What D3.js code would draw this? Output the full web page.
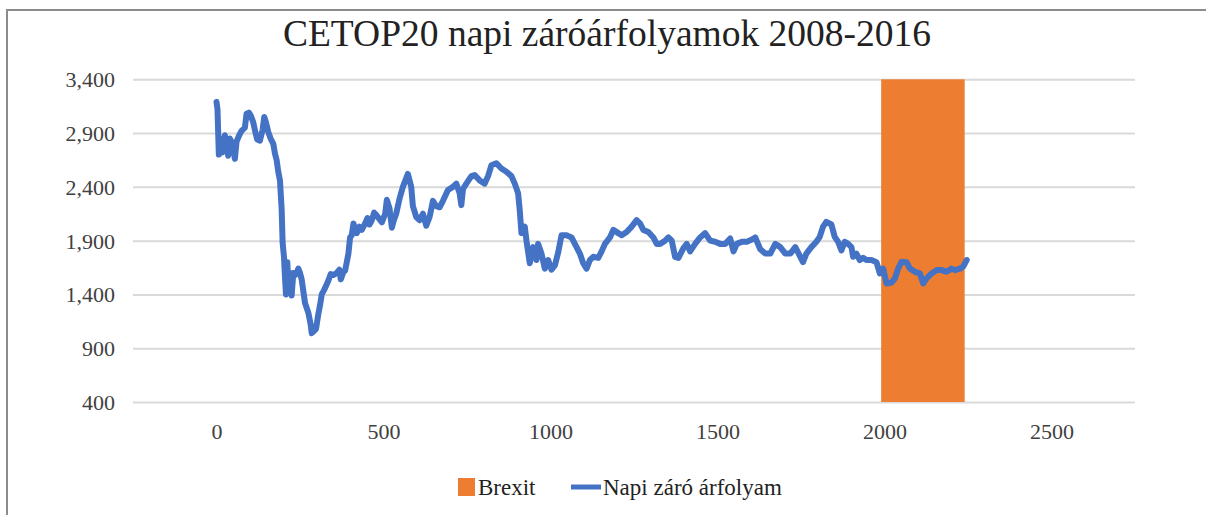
<!DOCTYPE html>
<html>
<head>
<meta charset="utf-8">
<script src="https://cdn.jsdelivr.net/npm/d3@7"></script>
<style>
body { margin: 0; background: #fff; }
</style>
</head>
<body>
<svg width="1206" height="515"></svg>
<script>
var title = "CETOP20 napi záróárfolyamok 2008-2016";
var seriesNames = ["Brexit", "Napi záró árfolyam"];
var yTicks = [400, 900, 1400, 1900, 2400, 2900, 3400];
var xTicks = [0, 500, 1000, 1500, 2000, 2500];
var brexitRange = [1990, 2240];

var days = [0,3,7,12,17,25,30,35,40,48,55,60,68,75,85,90,97,103,110,117,122,130,138,143,148,155,162,170,175,180,185,190,195,198,202,205,208,212,216,220,225,230,235,240,245,250,255,260,265,275,282,285,292,298,305,310,315,322,328,335,342,350,360,368,372,380,385,395,400,405,410,415,420,428,435,445,452,458,465,472,478,488,495,505,510,518,525,530,538,548,
  558,573,583,588,598,608,618,628,638,648,658,668,678,693,708,718,728,733,738,748,763,773,788,803,813,823,838,853,868,883,893,903,908,913,923,928,938,948,958,963,973,983,993,1003,1013,1023,1033,1048,1063,1073,1088,1098,1108,1118,1128,1143,1153,1163,1178,1188,1203,1213,1228,1243,1258,1268,1278,1293,1308,1318,1328,1343,1353,1363,1373,1383,1398,1408,1418,1433,1448,1463,1478,1493,1508,1523,1538,1548,1558,1573,1588,1603,1613,1628,1643,1658,1673,1688,1703,1718,1733,1748,
  1756,1766,1781,1796,1806,1816,1826,1841,1851,1861,1871,1881,1891,1901,1906,1916,1926,1936,1946,1961,1976,1986,1996,2006,2021,2031,2041,2051,2066,2076,2091,2106,2116,2126,2141,2156,2171,2186,2201,2211,2226,2236,2246];
var closes = [3190,3120,2700,2850,2720,2880,2780,2690,2850,2800,2660,2820,2880,2920,2950,3080,3090,3060,3000,2900,2840,2830,2930,3050,3000,2910,2850,2800,2710,2650,2540,2460,2200,1880,1750,1560,1400,1700,1450,1600,1390,1600,1580,1600,1640,1600,1540,1430,1320,1230,1120,1040,1060,1080,1220,1300,1400,1440,1480,1530,1590,1580,1600,1630,1540,1610,1620,1780,1930,1950,2060,2010,1970,2030,2000,2060,2110,2050,2090,2160,2140,2100,2070,2150,2280,2200,2020,2080,2150,2290,
  2400,2520,2400,2220,2120,2090,2150,2040,2120,2270,2220,2210,2270,2370,2400,2430,2340,2230,2380,2430,2500,2510,2460,2430,2500,2600,2620,2570,2540,2500,2430,2340,2180,1970,2030,1900,1690,1840,1720,1870,1780,1640,1720,1630,1670,1790,1950,1950,1930,1870,1780,1690,1640,1720,1750,1740,1800,1870,1930,2000,1970,1950,1980,2030,2090,2060,2000,1980,1930,1870,1870,1900,1930,1900,1750,1740,1830,1870,1800,1870,1930,1970,1900,1890,1870,1870,1920,1800,1870,1890,1890,1910,1930,1820,1780,1780,1870,1840,1780,1780,1840,1750,
  1700,1780,1840,1890,1935,2030,2075,2050,1935,1890,1810,1890,1870,1840,1750,1780,1720,1740,1720,1720,1700,1595,1640,1502,1510,1548,1641,1703,1700,1641,1610,1595,1502,1550,1595,1626,1626,1610,1640,1626,1640,1660,1720];

var serif = "'Liberation Serif', 'Times New Roman', serif";

var svg = d3.select("svg"),
    width = +svg.attr("width"),
    height = +svg.attr("height"),
    margin = {top: 79.3, right: 71, bottom: 113, left: 133};

var x = d3.scaleLinear()
    .domain([-250, 2750])
    .range([margin.left, width - margin.right]);

var y = d3.scaleLinear()
    .domain([400, 3400])
    .range([height - margin.bottom, margin.top]);

var color = d3.scaleOrdinal()
    .domain(seriesNames)
    .range(["#ED7D31", "#4472C4"]);

// frame edges
svg.append("path")
    .attr("d", "M7,515V10H1206")
    .style("fill", "none")
    .style("stroke", "#8c8c8c")
    .style("stroke-width", 2);

svg.append("text")
    .attr("x", 607)
    .attr("y", 46)
    .attr("text-anchor", "middle")
    .attr("font-family", serif)
    .style("font-size", "37.5px")
    .style("fill", "#222")
    .text(title);

svg.append("g")
    .attr("class", "grid")
    .attr("transform", "translate(" + margin.left + ",0)")
    .call(d3.axisLeft(y).tickValues(yTicks).tickSize(-(width - margin.left - margin.right)).tickFormat(""))
    .call(function(g) { g.select(".domain").remove(); })
    .selectAll("line")
    .style("stroke", "#d9d9d9")
    .style("stroke-width", 2);

svg.append("g")
    .attr("transform", "translate(" + (margin.left - 15) + ",0)")
    .attr("font-family", serif)
    .call(d3.axisLeft(y).tickValues(yTicks).tickSize(0).tickFormat(d3.format(",")))
    .call(function(g) { g.select(".domain").remove(); })
    .selectAll("text")
    .attr("dy", "0.34em")
    .attr("font-family", serif)
    .style("font-size", "22px")
    .style("fill", "#404040");

svg.append("g")
    .attr("transform", "translate(0," + (height - margin.bottom) + ")")
    .attr("font-family", serif)
    .call(d3.axisBottom(x).tickValues(xTicks).tickSize(0).tickFormat(d3.format("d")))
    .call(function(g) { g.select(".domain").remove(); })
    .selectAll("text")
    .attr("dy", "1.55em")
    .attr("font-family", serif)
    .style("font-size", "22px")
    .style("fill", "#404040");

svg.append("rect")
    .attr("x", x(brexitRange[0]))
    .attr("width", x(brexitRange[1]) - x(brexitRange[0]))
    .attr("y", y(3400))
    .attr("height", y(400) - y(3400))
    .style("fill", color("Brexit"));

var line = d3.line()
    .x(function(d, i) { return x(days[i]); })
    .y(function(d) { return y(d); });

svg.append("path")
    .datum(closes)
    .attr("d", line)
    .style("fill", "none")
    .style("stroke", color("Napi záró árfolyam"))
    .style("stroke-width", 6)
    .style("stroke-linejoin", "round")
    .style("stroke-linecap", "round");

var legend = svg.append("g")
    .attr("font-family", serif)
    .attr("transform", "translate(0,487)");

legend.append("rect")
    .attr("x", 458)
    .attr("y", -9)
    .attr("width", 17)
    .attr("height", 18)
    .style("fill", color("Brexit"));

legend.append("text")
    .attr("x", 478)
    .attr("dy", "0.34em")
    .attr("font-family", serif)
    .style("font-size", "23px")
    .style("fill", "#222")
    .text(seriesNames[0]);

legend.append("line")
    .attr("x1", 571)
    .attr("x2", 601)
    .style("stroke", color("Napi záró árfolyam"))
    .style("stroke-width", 5);

legend.append("text")
    .attr("x", 603)
    .attr("dy", "0.34em")
    .attr("font-family", serif)
    .style("font-size", "23px")
    .style("fill", "#222")
    .text(seriesNames[1]);
</script>
</body>
</html>
